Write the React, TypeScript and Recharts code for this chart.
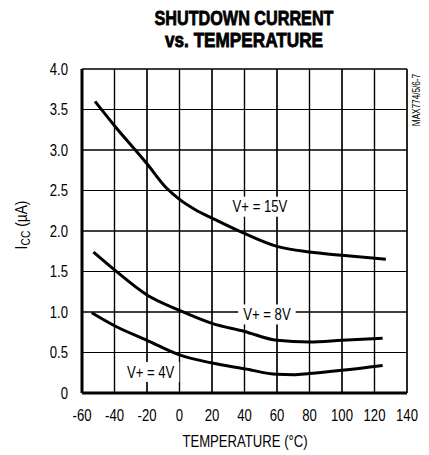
import { LineChart, Line, XAxis, YAxis, CartesianGrid } from 'recharts'

// temperatures (°C) and shutdown current (µA)
const temps15 = [-52, -40, -20, -8, 0, 10, 20, 40, 60, 80, 100, 127]
const icc15 = [3.6, 3.3, 2.83, 2.53, 2.39, 2.26, 2.16, 1.97, 1.81, 1.74, 1.7, 1.65]

const temps8 = [-53, -40, -20, 0, 20, 40, 60, 80, 100, 125]
const icc8 = [1.74, 1.52, 1.21, 1.02, 0.86, 0.76, 0.65, 0.63, 0.65, 0.675]

const temps4 = [-54, -40, -20, 0, 20, 40, 60, 70, 80, 100, 125]
const icc4 = [0.99, 0.83, 0.65, 0.47, 0.37, 0.3, 0.23, 0.225, 0.24, 0.28, 0.34]

const xTicks = [-60, -40, -20, 0, 20, 40, 60, 80, 100, 120, 140]
const yTicks = [0, 0.5, 1, 1.5, 2, 2.5, 3, 3.5, 4]

const curveLabels = ['V+ = 15V', 'V+ = 8V', 'V+ = 4V']
const labelTemps = [49.5, 53.8, -17.8]
const labelIcc = [2.3, 0.97, 0.26]

const toPoints = (xs: number[], ys: number[]) => xs.map((t, i) => ({ t, i: ys[i] }))

const series = [
  toPoints(temps15, icc15),
  toPoints(temps8, icc8),
  toPoints(temps4, icc4),
]

const labelPoints = curveLabels.map((text, k) => ({ t: labelTemps[k], i: labelIcc[k], text }))

const FONT = '"Liberation Sans", Arial, sans-serif'
const PLOT_W = 325
const PLOT_H = 324

// no condensed face installed, so squeeze Liberation Sans horizontally
function Narrow({ x, y, size = 16, anchor = 'middle', weight, rotate, sx = 0.82, children }: any) {
  const tf = `translate(${x} ${y})${rotate ? ` rotate(${rotate})` : ''} scale(${sx} 1)`
  return (
    <g transform={tf}>
      <text x={0} y={0} textAnchor={anchor} fontSize={size} fontWeight={weight} fill="#000" fontFamily={FONT}>
        {children}
      </text>
    </g>
  )
}

const CurveLabel = (p: any) => {
  const { cx, cy, payload, index } = p
  if (cx == null || cy == null) return <g key={index} />
  const w = payload.text.length * 6.5 + 12
  return (
    <g key={index}>
      <rect x={cx - w / 2} y={cy - 10} width={w} height={20} fill="#fff" />
      <Narrow x={cx} y={cy + 5.7}>{payload.text}</Narrow>
    </g>
  )
}

const XTick = ({ x, y, payload }: any) => <Narrow x={x} y={y + 11.4}>{payload.value}</Narrow>
const YTick = ({ x, y, payload }: any) => (
  <Narrow x={x} y={y + 5.7} anchor="end">{payload.value === 0 ? '0' : payload.value.toFixed(1)}</Narrow>
)

export default function App() {
  return (
    <div style={{ position: 'absolute', left: 0, top: 0, width: 429, height: 455, background: '#fff' }}>
      <LineChart width={429} height={455} margin={{ top: 69, right: 22, bottom: 32, left: 22 }}>
        <CartesianGrid stroke="#000" strokeWidth={1.2} />
        {/* tick lines stretched across the plot double as the grid */}
        <XAxis
          type="number"
          dataKey="t"
          domain={[-60, 140]}
          ticks={xTicks}
          height={30}
          axisLine={{ stroke: '#000', strokeWidth: 3 }}
          tickLine={{ stroke: '#000', strokeWidth: 1.2 }}
          tickSize={-PLOT_H}
          tickMargin={PLOT_H + 17}
          tick={<XTick />}
        />
        <YAxis
          type="number"
          domain={[0, 4]}
          ticks={yTicks}
          width={60}
          axisLine={{ stroke: '#000', strokeWidth: 3 }}
          tickLine={{ stroke: '#000', strokeWidth: 1.2 }}
          tickSize={-PLOT_W}
          tickMargin={PLOT_W + 14}
          tick={<YTick />}
        />
        <XAxis
          xAxisId="top"
          orientation="top"
          type="number"
          domain={[-60, 140]}
          height={0}
          tick={false}
          tickLine={false}
          axisLine={{ stroke: '#000', strokeWidth: 3 }}
        />
        <YAxis
          yAxisId="right"
          orientation="right"
          type="number"
          domain={[0, 4]}
          width={0}
          tick={false}
          tickLine={false}
          axisLine={{ stroke: '#000', strokeWidth: 3 }}
        />
        {series.map((data, k) => (
          <Line
            key={'s' + k}
            data={data}
            dataKey="i"
            type="monotone"
            stroke="#000"
            strokeWidth={3}
            dot={false}
            isAnimationActive={false}
          />
        ))}
        <Line
          data={labelPoints}
          dataKey="i"
          stroke="none"
          dot={CurveLabel}
          activeDot={false}
          zIndex={600}
          isAnimationActive={false}
        />
      </LineChart>
      <svg width={429} height={455} style={{ position: 'absolute', left: 0, top: 0, pointerEvents: 'none' }}>
        <text x={244} y={25} textAnchor="middle" fontSize={20} fontWeight="bold" fontFamily={FONT}
          textLength={179} lengthAdjust="spacingAndGlyphs" stroke="#000" strokeWidth={0.8}>
          SHUTDOWN CURRENT
        </text>
        <text x={244} y={47} textAnchor="middle" fontSize={20} fontWeight="bold" fontFamily={FONT}
          textLength={158} lengthAdjust="spacingAndGlyphs" stroke="#000" strokeWidth={0.8}>
          vs. TEMPERATURE
        </text>
        <Narrow x={245} y={447}>TEMPERATURE (°C)</Narrow>
        <Narrow x={27} y={225} rotate={-90} sx={0.86}>
          <tspan>I</tspan>
          <tspan fontSize={12} dy={3}>CC</tspan>
          <tspan dy={-3}>{'  (µA)'}</tspan>
        </Narrow>
        <Narrow x={420} y={100} rotate={-90} size={10}>MAX774/5/6-7</Narrow>
      </svg>
    </div>
  )
}
